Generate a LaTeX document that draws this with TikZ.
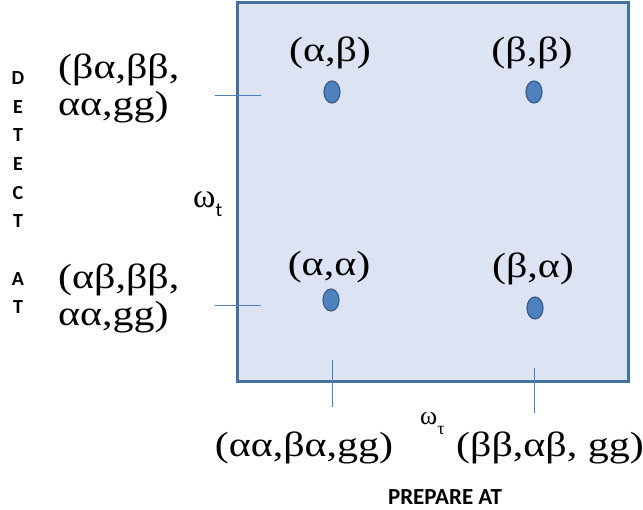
\documentclass[tikz,border=0pt]{standalone}
\usepackage{fontspec}
\setmainfont{Liberation Serif}
\newfontfamily\pairfont[FakeStretch=1.2]{Liberation Serif}
\newfontfamily\capsfont{Carlito}
\usetikzlibrary{shapes.geometric}

\definecolor{boxfill}{HTML}{DCE3F2}
\definecolor{boxline}{HTML}{41719C}
\definecolor{dotfill}{HTML}{4F81BD}
\definecolor{dotline}{HTML}{385D8A}

\tikzset{
  pairlbl/.style={inner sep=0pt, font=\pairfont\fontsize{35}{37}\selectfont},
  statedot/.style={ellipse, draw=dotline, fill=dotfill, line width=1.2pt,
    minimum width=16pt, minimum height=22pt, inner sep=0pt},
  tickline/.style={dotfill, line width=0.8pt},
  axislbl/.style={inner sep=0pt, font=\capsfont\bfseries\fontsize{20}{28.7}\selectfont},
}

\begin{document}
\begin{tikzpicture}[x=1pt,y=-1pt]
\useasboundingbox (0,0) rectangle (643,510);

% the box
\draw[boxline, fill=boxfill, line width=3pt] (237,3) rectangle (628,382);

% dots with their pairs
\foreach \nm/\x/\y/\lbl/\base in {ab/332/92/{(α,β)}/62, bb/534/92/{(β,β)}/62,
                                   aa/331/300/{(α,α)}/276, ba/535/308/{(β,α)}/278} {
  \node[statedot] (dot\nm) at (\x,\y) {};
  \node[pairlbl, anchor=base] (lbl\nm) at (\x-2,\base) {\lbl};
}

% ticks
\coordinate (tickLa1) at (215,95);  \coordinate (tickLa2) at (261,95);
\coordinate (tickLb1) at (215,305); \coordinate (tickLb2) at (261,305);
\coordinate (tickBa1) at (332,360); \coordinate (tickBa2) at (332,407);
\coordinate (tickBb1) at (534,368); \coordinate (tickBb2) at (534,413);
\draw[tickline] (tickLa1) -- (tickLa2);
\draw[tickline] (tickLb1) -- (tickLb2);
\draw[tickline] (tickBa1) -- (tickBa2);
\draw[tickline] (tickBb1) -- (tickBb2);

% left side (base = last line)
\node[pairlbl, align=left, anchor=base west] (detA) at (58,116) {(βα,ββ,\\αα,gg)};
\node[pairlbl, align=left, anchor=base west] (detB) at (58,326) {(αβ,ββ,\\αα,gg)};
\node[inner sep=0pt, anchor=base west] (omt) at (193,208)
  {\fontsize{34}{34}\selectfont ω\raisebox{-9pt}{\capsfont\fontsize{20}{20}\selectfont t}};
\node[axislbl, align=center, anchor=base] (detect) at (18,314)
  {D\\E\\T\\E\\C\\T\\[28.7pt]A\\T};

% bottom side
\node[pairlbl, anchor=base] (prepA) at (304,457) {(αα,βα,gg)};
\node[pairlbl, anchor=base] (prepB) at (550,457) {(ββ,αβ, gg)};
\node[inner sep=0pt, anchor=base west] (omtau) at (420,425)
  {\fontsize{26}{26}\selectfont ω\raisebox{-10pt}{\fontsize{18}{18}\selectfont τ}};
\node[axislbl, anchor=base, font=\capsfont\bfseries\fontsize{23}{23}\selectfont] (prepare) at (445,504) {PREPARE AT};

\end{tikzpicture}
\end{document}
